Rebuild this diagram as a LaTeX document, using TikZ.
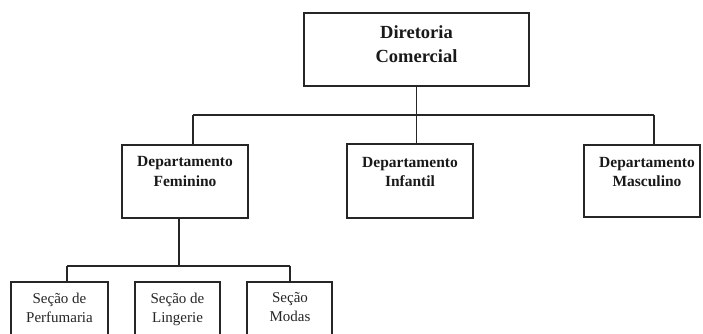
\documentclass[tikz,border=0pt]{standalone}
\usepackage{fontspec}
\setmainfont{Liberation Serif}
\begin{document}
\begin{tikzpicture}[x=1pt,y=-1pt,
  box/.style={draw=black!85, line width=1.5pt, fill=white, inner sep=0pt},
  conn/.style={draw=black!85, line width=1.5pt},
  toplbl/.style={anchor=north, inner sep=0pt, align=center, text=black!90,
    font={\fontsize{18.5}{24}\selectfont\bfseries}},
  deplbl/.style={anchor=north, inner sep=0pt, align=center, text=black!90,
    font={\fontsize{15.5}{19.5}\selectfont\bfseries}},
  seclbl/.style={anchor=north, inner sep=0pt, align=center, text=black!85,
    font={\fontsize{15}{19}\selectfont}}]
\useasboundingbox (0,0) rectangle (703,334);
\clip (0,0) rectangle (703,334);
% boxes
\node[box, minimum width=225pt, minimum height=73pt] (dc) at (416.5,49.5) {};
\node[box, minimum width=126pt, minimum height=73pt] (df) at (185,181.5) {};
\node[box, minimum width=126pt, minimum height=74pt] (di) at (410,181) {};
\node[box, minimum width=116pt, minimum height=72pt] (dm) at (642,181) {};
\node[box, anchor=north, minimum width=97pt, minimum height=80pt] (sp) at (59.5,281) {};
\node[box, anchor=north, minimum width=85pt, minimum height=80pt] (sl) at (177.5,281) {};
\node[box, anchor=north, minimum width=85pt, minimum height=80pt] (sm) at (289.5,281) {};
% labels
\node[toplbl] (dcT) at (416.5,25) {Diretoria\\Comercial};
\node[deplbl] (dfT) at (185,156.4) {Departamento\\Feminino};
\node[deplbl] (diT) at (410,156.8) {Departamento\\Infantil};
\node[deplbl] (dmT) at (647,157) {Departamento\\Masculino};
\node[seclbl] (spT) at (59.5,292.6) {Seção de\\Perfumaria};
\node[seclbl] (slT) at (177.5,292.6) {Seção de\\Lingerie};
\node[seclbl] (smT) at (290,292.6) {Seção\\Modas};
% connectors, upper level
\coordinate (b1L) at (193,115);
\coordinate (b1R) at (654,115);
\draw[conn] (dc.south) -- (dc.south |- b1L);
\draw[conn] (b1L) -- (b1R);
\draw[conn] (b1L) -- (b1L |- df.north);
\draw[conn] (dc.south |- b1L) -- (dc.south |- di.north);
\draw[conn] (b1R) -- (b1R |- dm.north);
% connectors, lower level
\coordinate (b2L) at (67,266);
\coordinate (b2M) at (179,266);
\coordinate (b2R) at (290,266);
\draw[conn] (b2M |- df.south) -- (b2M);
\draw[conn] (b2L) -- (b2R);
\draw[conn] (b2L) -- (b2L |- sp.north);
\draw[conn] (b2R) -- (b2R |- sm.north);
\end{tikzpicture}
\end{document}
